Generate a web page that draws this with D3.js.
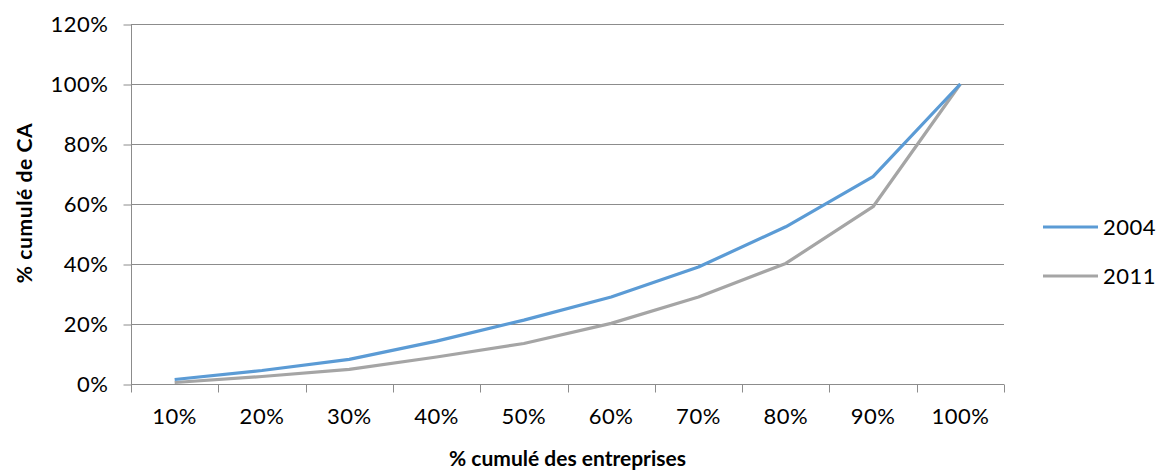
<!DOCTYPE html>
<html>
<head>
<meta charset="utf-8">
<script src="https://cdn.jsdelivr.net/npm/d3@7"></script>
<style>
  body { margin: 0; background: #fff; }
  text { font-family: Lato, "Open Sans", sans-serif; fill: #000; }
</style>
</head>
<body>
<div id="chart"></div>
<script>
// data
let categories = ["10%", "20%", "30%", "40%", "50%", "60%", "70%", "80%", "90%", "100%"];
let values2004 = [1.5, 4.5, 8.2, 14.3, 21.3, 29, 39, 52.4, 69.1, 100];
let values2011 = [0.5, 2.5, 4.9, 9, 13.5, 20.2, 29, 40.2, 59.1, 100];
let yTicks = [0, 20, 40, 60, 80, 100, 120];
let seriesNames = ["2004", "2011"];
let seriesColors = ["#5b9bd5", "#a5a5a5"];

let width = 1160, height = 472;
let plotLeft = 131, plotRight = 1004, plotTop = 24, plotBottom = 384;
let tickFont = "22px";

let svg = d3.select("#chart").append("svg")
  .attr("width", width).attr("height", height);

let xScale = d3.scaleBand().domain(categories).range([plotLeft, plotRight]);
let yScale = d3.scaleLinear().domain([0, 120]).range([plotBottom, plotTop]);

// gridlines
svg.append("g")
  .selectAll("line")
  .data(yTicks.filter(d => d > 0))
  .enter()
  .append("line")
  .attr("x1", plotLeft).attr("x2", plotRight)
  .attr("y1", d => yScale(d) + 0.5).attr("y2", d => yScale(d) + 0.5)
  .attr("stroke", "#8c8c8c").attr("stroke-width", 1);

// y axis
let yAxis = d3.axisLeft(yScale).tickValues(yTicks).tickSize(8).tickPadding(15)
  .tickFormat(d => d + "%");
let gy = svg.append("g").attr("transform", "translate(" + (plotLeft + 0.5) + ",0.5)").call(yAxis);
gy.selectAll("path, line").attr("stroke", "#8c8c8c");
gy.select(".domain").attr("d", "M0," + plotTop + "V" + plotBottom);
gy.selectAll("text").style("font-size", tickFont).style("font-family", "Lato, sans-serif")
  .style("letter-spacing", "0.5px").attr("fill", "#000");

// x axis, ticks at category boundaries
let xAxis = d3.axisBottom(xScale).tickSize(0).tickPadding(24);
let gx = svg.append("g").attr("transform", "translate(0," + (plotBottom + 0.5) + ")").call(xAxis);
gx.select(".domain").attr("stroke", "#8c8c8c").attr("d", "M" + plotLeft + ",0H" + plotRight);
gx.selectAll("text").style("font-size", tickFont).style("font-family", "Lato, sans-serif")
  .style("letter-spacing", "0.5px").attr("fill", "#000");
let bounds = categories.map(c => xScale(c)).concat([plotRight]);
gx.selectAll(".bound")
  .data(bounds)
  .enter()
  .append("line")
  .attr("class", "bound")
  .attr("x1", d => Math.round(d) + 0.5).attr("x2", d => Math.round(d) + 0.5)
  .attr("y1", 0).attr("y2", 8)
  .attr("stroke", "#8c8c8c");

// lines
let line = d3.line()
  .x((d, i) => xScale(categories[i]) + xScale.bandwidth() / 2)
  .y(d => yScale(d));

[values2011, values2004].forEach(function(vals, k) {
  let idx = 1 - k;
  svg.append("path")
    .datum(vals)
    .attr("d", line)
    .attr("fill", "none")
    .attr("stroke", seriesColors[idx])
    .attr("stroke-width", 3.2)
    .attr("stroke-linejoin", "round");
});

// axis titles
svg.append("text")
  .attr("x", (plotLeft + plotRight) / 2)
  .attr("y", 466)
  .attr("text-anchor", "middle")
  .style("font-size", "21px").style("font-weight", "bold")
  .text("% cumulé des entreprises");

svg.append("text")
  .attr("transform", "translate(32,203) rotate(-90)")
  .attr("text-anchor", "middle")
  .style("font-size", "21px").style("font-weight", "bold")
  .style("letter-spacing", "0.6px")
  .text("% cumulé de CA");

// legend
let legend = svg.append("g");
seriesNames.forEach(function(name, i) {
  let y = 227 + i * 49;
  legend.append("line")
    .attr("x1", 1043).attr("x2", 1098)
    .attr("y1", y).attr("y2", y)
    .attr("stroke", seriesColors[i]).attr("stroke-width", 3.2);
  legend.append("text")
    .attr("x", 1103).attr("y", y + 8)
    .style("font-size", tickFont)
    .style("letter-spacing", "0.5px")
    .text(name);
});
</script>
</body>
</html>
